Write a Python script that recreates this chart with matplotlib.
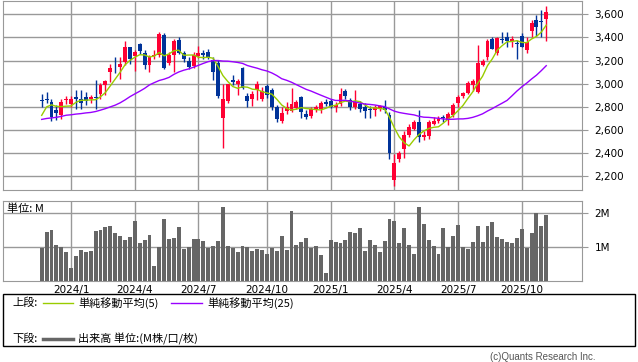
import numpy as np
import pandas as pd
import matplotlib
matplotlib.use('Agg')
import matplotlib.pyplot as plt
from matplotlib.lines import Line2D
from matplotlib.patches import Rectangle
from matplotlib.ticker import FuncFormatter

# weekly candles (week starting Monday)
dates = pd.date_range('2023-11-20', periods=104, freq='W-MON')

opens = [2860, 2866, 2842, 2773, 2727, 2860, 2825, 2882, 2871, 2888,
         2865, 2885, 2911, 2992, 3101, 3182, 3147, 3188, 3314, 3240,
         3340, 3262, 3159, 3240, 3251, 3421, 3176, 3245, 3378, 3268,
         3199, 3153, 3240, 3268, 3274, 3205, 3176, 2706, 2853, 3032,
         2997, 3136, 2894, 2871, 2944, 2871, 2980, 2946, 2801, 2680,
         2767, 2761, 2790, 2882, 2740, 2721, 2775, 2778, 2842, 2853,
         2796, 2825, 2940, 2859, 2801, 2825, 2796, 2784, 2773, 2778,
         2800, 2727, 2168, 2350, 2439, 2560, 2612, 2669, 2540, 2548,
         2652, 2675, 2715, 2686, 2727, 2831, 2894, 2917, 2992, 2929,
         3165, 3234, 3384, 3263, 3384, 3401, 3372, 3355, 3413, 3292,
         3453, 3551, 3536, 3563]
highs = [2910, 2925, 2865, 2819, 2865, 2894, 2894, 2946, 2946, 2925,
         2905, 3032, 3009, 3032, 3170, 3228, 3234, 3370, 3320, 3290,
         3355, 3291, 3245, 3291, 3447, 3438, 3274, 3384, 3401, 3285,
         3228, 3275, 3326, 3291, 3300, 3233, 3205, 2997, 3000, 3072,
         3043, 3142, 2920, 2940, 3022, 2970, 3000, 2962, 2813, 2801,
         2840, 2962, 2859, 2894, 2773, 2796, 2819, 2853, 2865, 2871,
         2842, 2963, 2957, 2876, 2946, 2853, 2830, 2807, 2813, 2819,
         2859, 2760, 2395, 2421, 2588, 2650, 2690, 2773, 2588, 2686,
         2710, 2721, 2730, 2755, 2830, 2900, 2930, 3020, 3038, 3332,
         3210, 3384, 3407, 3400, 3447, 3447, 3413, 3378, 3442, 3401,
         3551, 3597, 3638, 3672]
lows = [2800, 2830, 2681, 2686, 2692, 2825, 2802, 2784, 2784, 2820,
        2830, 2784, 2865, 2905, 3015, 3090, 3038, 3160, 3168, 3110,
        3260, 3130, 3101, 3216, 3234, 3130, 3159, 3104, 3255, 3185,
        3127, 3135, 3225, 3216, 3216, 3032, 2879, 2447, 2830, 2986,
        2905, 2955, 2800, 2807, 2860, 2850, 2880, 2774, 2670, 2660,
        2735, 2752, 2780, 2706, 2698, 2700, 2756, 2750, 2807, 2790,
        2755, 2807, 2871, 2773, 2778, 2755, 2704, 2704, 2721, 2767,
        2750, 2352, 2116, 2320, 2355, 2540, 2600, 2496, 2510, 2519,
        2640, 2663, 2670, 2647, 2716, 2796, 2880, 2910, 2940, 2917,
        3150, 3205, 3298, 3250, 3349, 3321, 3315, 3217, 3315, 3269,
        3407, 3413, 3401, 3372]
closes = [2852, 2860, 2709, 2750, 2842, 2870, 2871, 2865, 2836, 2848,
          2882, 2878, 2992, 3020, 3136, 3175, 3170, 3314, 3211, 3274,
          3285, 3159, 3228, 3250, 3430, 3138, 3245, 3366, 3268, 3214,
          3147, 3248, 3268, 3252, 3230, 3104, 2894, 2871, 2997, 3015,
          3026, 2960, 2853, 2911, 2997, 2940, 2900, 2801, 2692, 2750,
          2796, 2825, 2842, 2755, 2710, 2779, 2796, 2830, 2825, 2801,
          2819, 2911, 2894, 2796, 2842, 2784, 2767, 2770, 2796, 2807,
          2770, 2404, 2315, 2404, 2560, 2629, 2669, 2540, 2560, 2669,
          2680, 2692, 2700, 2738, 2819, 2888, 2917, 3004, 3021, 3182,
          3200, 3372, 3303, 3396, 3375, 3367, 3384, 3340, 3321, 3361,
          3528, 3493, 3530, 3620]
# volume in millions
volume = [0.96, 1.43, 1.49, 1.05, 0.99, 0.85, 0.38, 0.73, 0.90, 0.84,
          0.87, 1.46, 1.49, 1.60, 1.63, 1.40, 1.31, 1.19, 1.28, 1.78,
          1.11, 1.19, 1.34, 0.44, 0.99, 1.83, 1.22, 1.25, 1.60, 0.93,
          0.99, 1.22, 1.22, 1.17, 0.96, 1.02, 1.17, 2.18, 1.02, 0.96,
          0.84, 1.02, 0.99, 0.87, 0.93, 0.90, 0.79, 0.96, 0.87, 1.31,
          0.90, 2.07, 1.05, 1.14, 1.25, 0.96, 1.02, 0.76, 0.23, 1.19,
          1.14, 1.11, 1.19, 1.43, 1.40, 1.57, 0.87, 1.19, 1.05, 0.84,
          1.17, 1.83, 1.78, 1.11, 1.57, 1.05, 0.79, 2.18, 1.69, 1.19,
          1.02, 0.79, 1.57, 0.99, 1.31, 1.66, 0.99, 0.93, 1.14, 1.63,
          1.14, 1.63, 1.75, 1.28, 1.22, 1.14, 1.11, 1.25, 1.54, 0.96,
          1.40, 2.01, 1.63, 1.95]

# moving average values shown before enough weeks are in view
ma5_head = [2727, 2800, 2818, 2805]
ma25_head = [2692, 2700, 2705, 2710, 2718, 2728, 2732, 2738, 2742, 2748,
             2752, 2760, 2772, 2785, 2800, 2815, 2835, 2860, 2888, 2912,
             2935, 2960, 2990, 3010]

UP = '#ff0033'
DOWN = '#003399'
GRID = '#999999'

x = np.arange(len(dates))
o = np.array(opens, dtype=float)
h = np.array(highs, dtype=float)
l = np.array(lows, dtype=float)
c = np.array(closes, dtype=float)

close_s = pd.Series(c)
ma5 = close_s.rolling(5).mean().values
ma5[:len(ma5_head)] = ma5_head
ma25 = close_s.rolling(25).mean().values
ma25[:len(ma25_head)] = ma25_head

# first week of each quarter
tick_idx = [i for i in range(1, len(dates))
            if dates[i].month != dates[i - 1].month and dates[i].month in (1, 4, 7, 10)]
tick_lbl = [f'{dates[i].year}/{dates[i].month}' for i in tick_idx]

fig = plt.figure(figsize=(6.38, 3.62), dpi=100)
W, H = 638, 362

ax = fig.add_axes([3 / W, 1 - 190 / H, 579 / W, 189 / H])
axv = fig.add_axes([3 / W, 1 - 280.5 / H, 579 / W, 79.5 / H])

# candles
cols = np.where(c >= o, UP, DOWN)
ax.vlines(x, l, h, colors=cols, lw=1, zorder=3)
body_low = np.minimum(o, c)
body_h = np.maximum(np.abs(c - o), 8)
ax.bar(x, body_h, bottom=body_low, width=0.8, color=cols, lw=0, zorder=4)

ax.plot(x, ma5, color='#99cc00', lw=1, zorder=5)
ax.plot(x, ma25, color='#9900ff', lw=1, zorder=5)

axv.bar(x, volume, width=0.8, color='#666666', lw=0, zorder=3)

for a in (ax, axv):
    a.set_xlim(-7.9, 110.3)
    a.set_xticks(tick_idx)
    a.grid(True, color=GRID, lw=1)
    a.set_axisbelow(True)
    for s in a.spines.values():
        s.set_color(GRID)
    a.yaxis.tick_right()
    a.tick_params(axis='y', direction='out', length=4, color=GRID, pad=5, labelsize=7.5)
    a.tick_params(axis='x', length=0, labelsize=7.5, pad=3)

ax.set_ylim(2082, 3715)
ax.set_yticks(range(2200, 3601, 200))
ax.yaxis.set_major_formatter(FuncFormatter(lambda v, p: f'{v:,.0f}'))
ax.set_xticklabels([])

axv.set_ylim(0, 2.36)
axv.set_yticks([1, 2])
axv.set_yticklabels(['1M', '2M'])
axv.set_xticklabels(tick_lbl)

jp = ['Noto Sans CJK JP', 'DejaVu Sans']
fig.text(7 / W, 1 - 209 / H, '単位: M', family=jp, fontsize=8, va='center')

# legend box
fig.add_artist(Rectangle((3 / W, 1 - 346 / H), 632 / W, 52 / H, transform=fig.transFigure,
                         fill=False, ec='black', lw=1))
fig.text(12 / W, 1 - 303 / H, '上段:', family=jp, fontsize=8, va='center')
fig.add_artist(Line2D([43 / W, 73 / W], [1 - 303 / H] * 2, transform=fig.transFigure,
                      color='#99cc00', lw=1))
fig.text(78 / W, 1 - 303 / H, '単純移動平均(5)', family=jp, fontsize=8, va='center')
fig.add_artist(Line2D([171 / W, 202 / W], [1 - 303 / H] * 2, transform=fig.transFigure,
                      color='#9900ff', lw=1))
fig.text(207 / W, 1 - 303 / H, '単純移動平均(25)', family=jp, fontsize=8, va='center')
fig.text(12 / W, 1 - 339 / H, '下段:', family=jp, fontsize=8, va='center')
fig.add_artist(Line2D([43 / W, 73 / W], [1 - 339 / H] * 2, transform=fig.transFigure,
                      color='#666666', lw=2.5))
fig.text(78 / W, 1 - 339 / H, '出来高 単位:(M株/口/枚)', family=jp, fontsize=8, va='center')

fig.text(596 / W, 1 - 357 / H, '(c)Quants Research Inc.', family='Liberation Sans',
         fontsize=7, color='#555555', ha='right', va='center')

fig.savefig('out.png', dpi=100)
